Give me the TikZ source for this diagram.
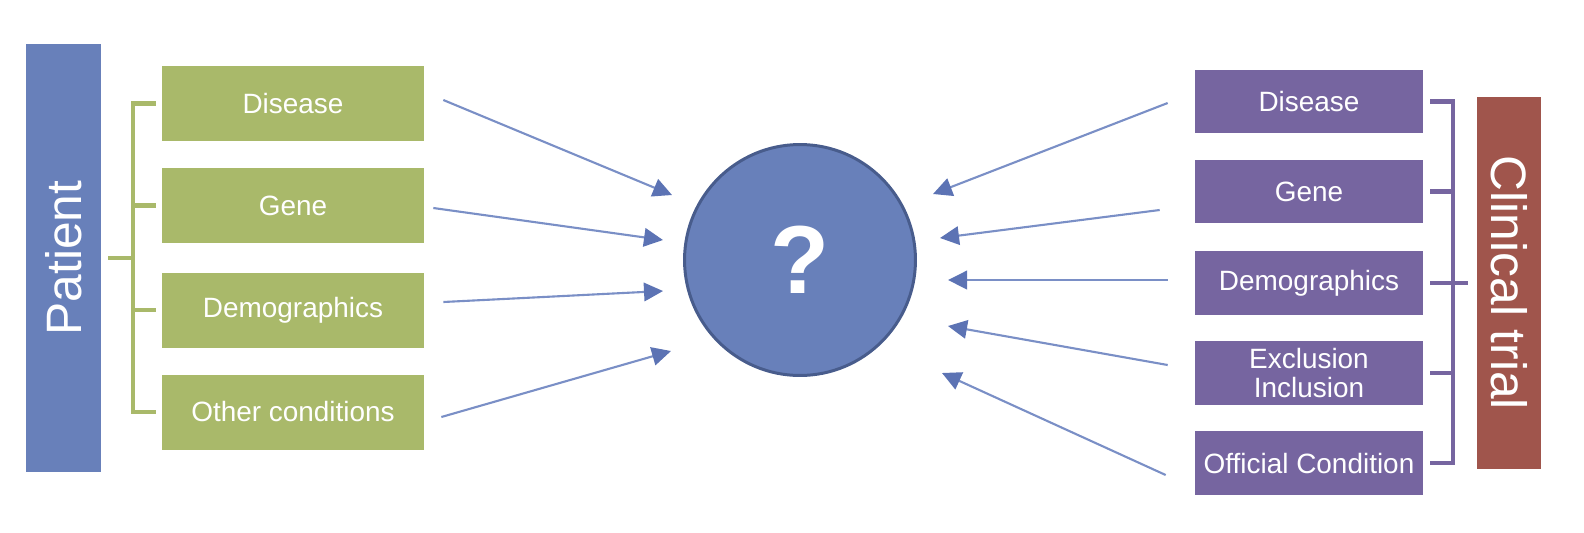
\documentclass[tikz,border=0pt]{standalone}
\usepackage{fontspec}
\setmainfont{Liberation Sans}
\usepackage{xcolor}
\usetikzlibrary{arrows.meta,calc}
\definecolor{patblue}{RGB}{104,128,186}
\definecolor{patgreen}{RGB}{169,185,106}
\definecolor{trialpurple}{RGB}{118,101,160}
\definecolor{trialred}{RGB}{160,85,76}
\definecolor{qborder}{RGB}{72,92,140}
\definecolor{arrline}{RGB}{122,143,198}
\definecolor{arrhead}{RGB}{92,115,180}
\tikzset{
  >={Triangle[length=3.8mm, width=3.7mm, color=arrhead]},
  pbox/.style={fill=patgreen, text=white, align=center, inner sep=0pt, minimum width=5.24cm, minimum height=1.5cm, font=\fontsize{15.9}{17}\selectfont},
  tbox/.style={fill=trialpurple, text=white, align=center, inner sep=0pt, minimum width=4.56cm, minimum height=1.27cm, font=\fontsize{15.9}{17}\selectfont},
  sidebar/.style={text=white, inner sep=0pt, font=\fontsize{28.3}{30}\selectfont},
  brk/.style={line width=2.8pt},
  flow/.style={->, line width=1.2pt, draw=arrline},
}
\begin{document}
\begin{tikzpicture}[x=0.02cm, y=-0.02cm]
  \useasboundingbox (0,0) rectangle (1584,532);
  % patient side
  \node[sidebar, fill=patblue, rotate=90, minimum width=8.56cm, minimum height=1.5cm] (pat) at (63.5,258) {Patient};
  \node[pbox] (pdis)  at (293,103.5) {Disease};
  \node[pbox] (pgene) at (293,205.5) {Gene};
  \node[pbox] (pdemo) at (293,310) {Demographics};
  \node[pbox] (poth)  at (293,412) {Other conditions};
  % clinical trial side
  \node[sidebar, fill=trialred, rotate=-90, minimum width=7.44cm, minimum height=1.28cm] (trial) at (1509,283) {Clinical trial};
  \node[tbox] (tdis)  at (1309,101.5) {Disease};
  \node[tbox] (tgene) at (1309,191.5) {Gene};
  \node[tbox] (tdemo) at (1309,283) {Demographics};
  \node[tbox] (texc)  at (1309,373) {Exclusion\\Inclusion};
  \node[tbox] (toff)  at (1309,463) {Official Condition};
  % matching
  \node[circle, fill=patblue, draw=qborder, line width=1.7pt, minimum size=4.62cm, inner sep=0pt, text=white, font=\bfseries\fontsize{55}{55}\selectfont] (q) at (800,260) {?};
  % brackets (rotated bars: .south faces the boxes)
  \coordinate (lb) at (133,258);
  \draw[brk, draw=patgreen] ($(pat.south)+(7,0)$) -- (lb);
  \draw[brk, draw=patgreen] ($(pdis.west)+(-6,0)$) -| (lb |- poth.west) -- ($(poth.west)+(-6,0)$);
  \foreach \n in {pgene,pdemo}
    \draw[brk, draw=patgreen] (lb |- \n.west) -- ($(\n.west)+(-6,0)$);
  \coordinate (rb) at (1453,283);
  \draw[brk, draw=trialpurple] ($(trial.south)+(-9,0)$) -- (rb);
  \draw[brk, draw=trialpurple] ($(tdis.east)+(7,0)$) -| (rb |- toff.east) -- ($(toff.east)+(7,0)$);
  \foreach \n in {tgene,tdemo,texc}
    \draw[brk, draw=trialpurple] (rb |- \n.east) -- ($(\n.east)+(7,0)$);
  % arrows into the circle
  \draw[flow] ($(pdis.east)+(19,-3.5)$) -- ($(q)+(-128,-65)$);
  \draw[flow] ($(pgene.east)+(9,2.5)$) -- ($(q)+(-137,-20)$);
  \draw[flow] ($(pdemo.east)+(19,-8)$) -- ($(q)+(-137,31)$);
  \draw[flow] ($(poth.east)+(17,5)$) -- ($(q)+(-129,91)$);
  \draw[flow] ($(tdis.west)+(-27,1.5)$) -- ($(q)+(133,-66)$);
  \draw[flow] ($(tgene.west)+(-35,18.5)$) -- ($(q)+(140,-22)$);
  \draw[flow] ($(tdemo.west)+(-27,-3)$) -- ($(q)+(148,20)$);
  \draw[flow] ($(texc.west)+(-27,-8)$) -- ($(q)+(148,66)$);
  \draw[flow] ($(toff.west)+(-29,12)$) -- ($(q)+(142,113)$);
\end{tikzpicture}
\end{document}
